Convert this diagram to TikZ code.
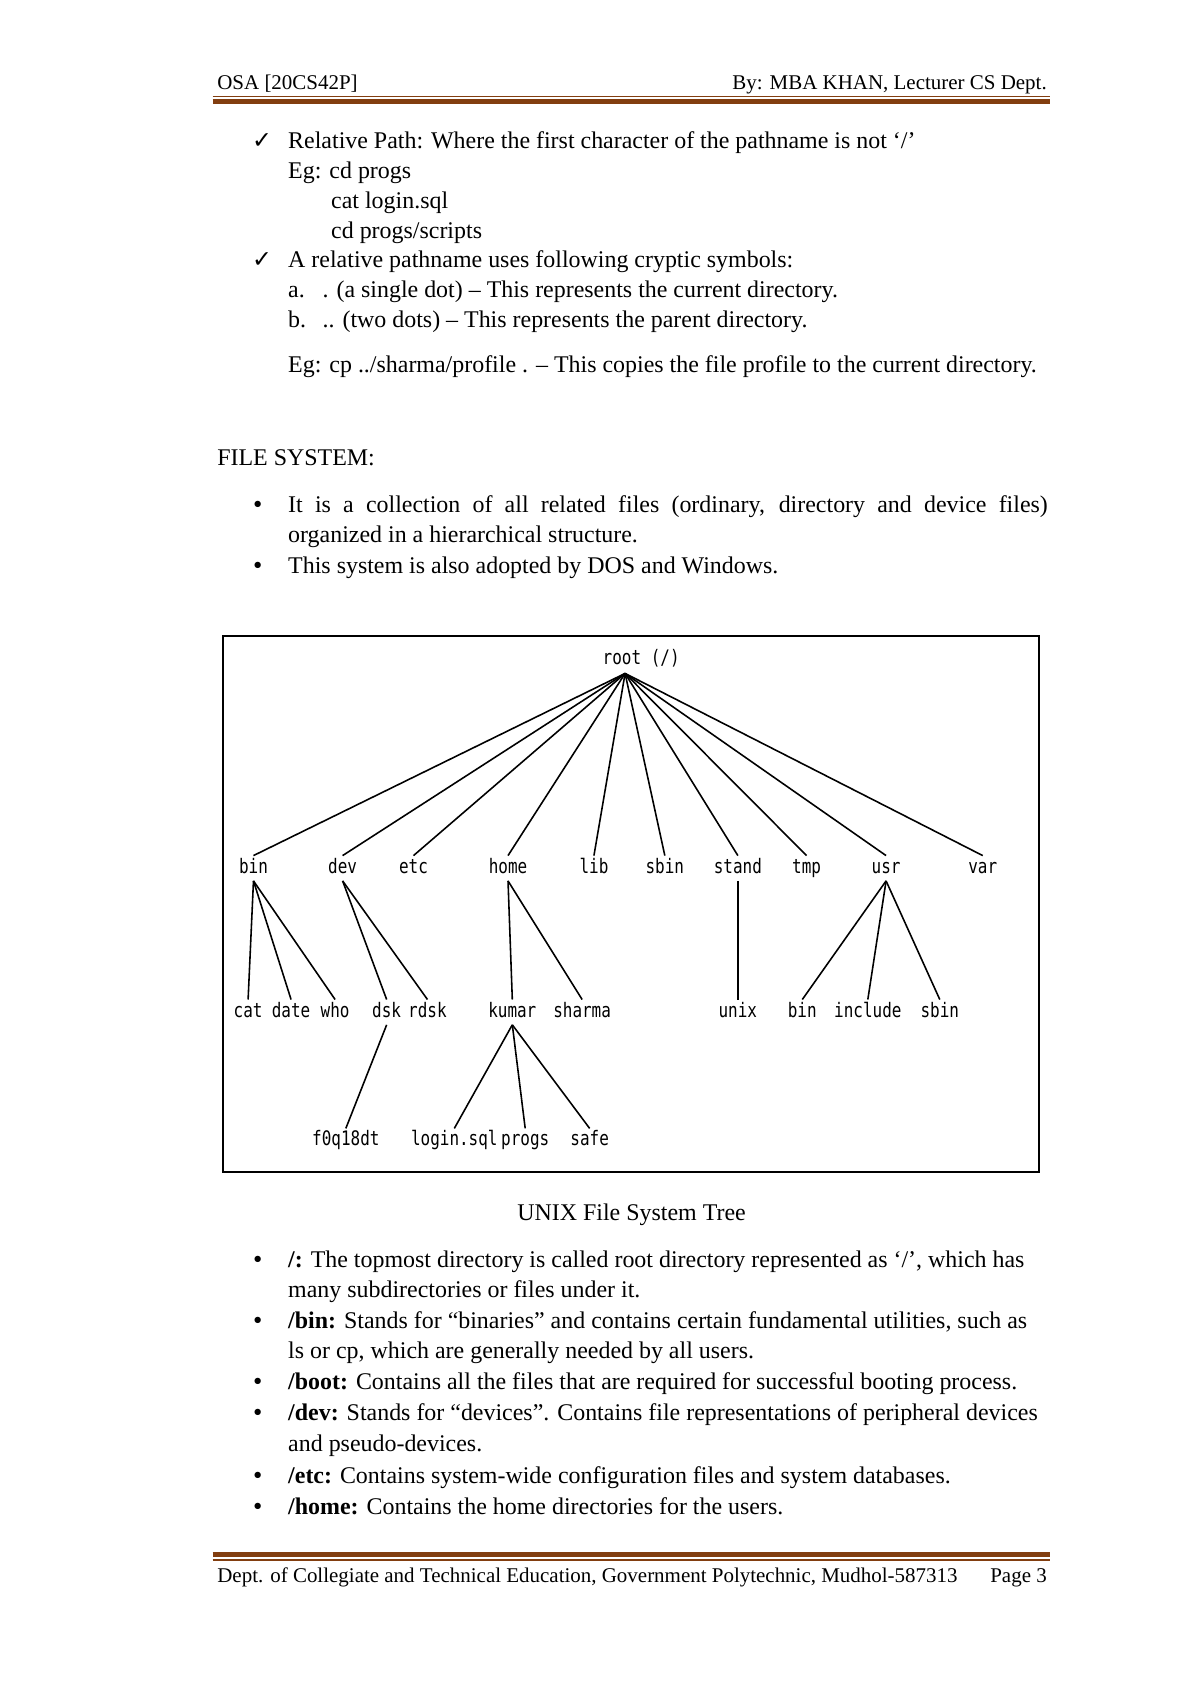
\documentclass[tikz,border=0pt]{standalone}
\usepackage{fontspec}
\setmainfont{Liberation Serif}
\newfontfamily\treefont[FakeStretch=0.8]{DejaVu Sans Mono}
\newfontfamily\symfont{DejaVu Sans}
\definecolor{rulebrown}{RGB}{130,62,16}

\begin{document}
\begin{tikzpicture}[x=0.0190909cm,y=-0.0190909cm,
  txt/.style={anchor=base west,inner sep=0pt,font=\fontsize{12.1}{14}\selectfont},
  small/.style={inner sep=0pt,font=\fontsize{10.6}{12}\selectfont},
  tick/.style={anchor=base,inner sep=0pt,font=\symfont\bfseries\fontsize{12}{12}\selectfont},
  dot/.style={anchor=base,inner sep=0pt,font=\symfont\fontsize{11}{14}\selectfont},
  captxt/.style={anchor=base,inner sep=0pt,font=\fontsize{12.1}{14}\selectfont},
  fsnode/.style={anchor=base,inner sep=1.2pt,text height=7.5pt,text depth=2.5pt,font=\treefont\fontsize{10.1}{12}\selectfont},
  link/.style={line width=0.8pt}]
\useasboundingbox (0,0) rectangle (1108,1567);

% header
\node[small,anchor=base west] (hdrl) at (202,83) {OSA [20CS42P]};
\node[small,anchor=base east] (hdrr) at (975,83) {By: MBA KHAN, Lecturer CS Dept.};
\draw[rulebrown,line width=0.6pt] (198,89.5) -- (978,89.5);
\draw[rulebrown,line width=2.6pt] (198,94.5) -- (978,94.5);

% relative path
\node[tick] (m1) at (244,138) {✓};
\node[txt] (t1) at (268,138) {Relative Path: Where the first character of the pathname is not ‘/’};
\node[txt] (t2) at (268,166) {Eg: cd progs};
\node[txt] (t3) at (308,194) {cat login.sql};
\node[txt] (t4) at (308,222) {cd progs/scripts};
\node[tick] (m2) at (244,249) {✓};
\node[txt] (t5) at (268,249) {A relative pathname uses following cryptic symbols:};
\node[txt] (a) at (268,277) {a.};
\node[txt] (t6) at (300,277) {. (a single dot) – This represents the current directory.};
\node[txt] (b) at (268,305) {b.};
\node[txt] (t7) at (300,305) {.. (two dots) – This represents the parent directory.};
\node[txt] (t8) at (268,347) {Eg: cp ../sharma/profile . – This copies the file profile to the current directory.};

% file system
\node[txt] (fs) at (202,433) {FILE SYSTEM:};
\node[dot] (d1) at (240,477) {•};
\node[txt] (f1) at (268,477) {\makebox[13.5cm][s]{It is a collection of all related files (ordinary, directory and device files)}};
\node[txt] (f2) at (268,505) {organized in a hierarchical structure.};
\node[dot] (d2) at (240,534) {•};
\node[txt] (f3) at (268,534) {This system is also adopted by DOS and Windows.};

% tree
\draw[line width=1.1pt] (208,592) rectangle (967,1091);
\node[fsnode] (root) at (597,619) {root (/)};
\coordinate (apex) at (582,627);
\foreach \n/\x in {bin/236,dev/319,etc/385,home/473,lib/553,sbin/619,stand/687,tmp/751,usr/825,var/915}{
  \node[fsnode] (\n) at (\x,813) {\n};
  \draw[link] (apex) -- (\n.north);
}
\foreach \n/\x in {cat/231,date/271,who/312,dsk/360,rdsk/398,kumar/477,sharma/542,unix/687,include/808}
  \node[fsnode] (\n) at (\x,947) {\n};
\node[fsnode] (ubin) at (747,947) {bin};
\node[fsnode] (usbin) at (875,947) {sbin};
\foreach \n/\x in {f0q18dt/322,safe/549,progs/489}
  \node[fsnode] (\n) at (\x,1067) {\n};
\node[fsnode] (login) at (423,1067) {login.sql};

\foreach \p/\c in {bin/cat,bin/date,bin/who,dev/dsk,dev/rdsk,home/kumar,home/sharma,
  stand/unix,usr/ubin,usr/include,usr/usbin,dsk/f0q18dt,kumar/login,kumar/progs,kumar/safe}
  \draw[link] (\p.south) -- (\c.north);

\node[captxt] (caption) at (588,1136) {UNIX File System Tree};

% directories
\node[dot] (d3) at (240,1180) {•};
\node[txt] (g1) at (268,1180) {\textbf{/:} The topmost directory is called root directory represented as ‘/’, which has};
\node[txt] (g2) at (268,1208) {many subdirectories or files under it.};
\node[dot] (d4) at (240,1237) {•};
\node[txt] (g3) at (268,1237) {\textbf{/bin:} Stands for “binaries” and contains certain fundamental utilities, such as};
\node[txt] (g4) at (268,1265) {ls or cp, which are generally needed by all users.};
\node[dot] (d5) at (240,1294) {•};
\node[txt] (g5) at (268,1294) {\textbf{/boot:} Contains all the files that are required for successful booting process.};
\node[dot] (d6) at (240,1323) {•};
\node[txt] (g6) at (268,1323) {\textbf{/dev:} Stands for “devices”. Contains file representations of peripheral devices};
\node[txt] (g7) at (268,1351) {and pseudo-devices.};
\node[dot] (d7) at (240,1381) {•};
\node[txt] (g8) at (268,1381) {\textbf{/etc:} Contains system-wide configuration files and system databases.};
\node[dot] (d8) at (240,1410) {•};
\node[txt] (g9) at (268,1410) {\textbf{/home:} Contains the home directories for the users.};

% footer
\draw[rulebrown,line width=2.6pt] (198,1447) -- (978,1447);
\draw[rulebrown,line width=0.6pt] (198,1452.5) -- (978,1452.5);
\node[small,anchor=base west] (ftl) at (202,1473) {Dept. of Collegiate and Technical Education, Government Polytechnic, Mudhol-587313};
\node[small,anchor=base east] (ftr) at (975,1473) {Page 3};
\end{tikzpicture}
\end{document}
